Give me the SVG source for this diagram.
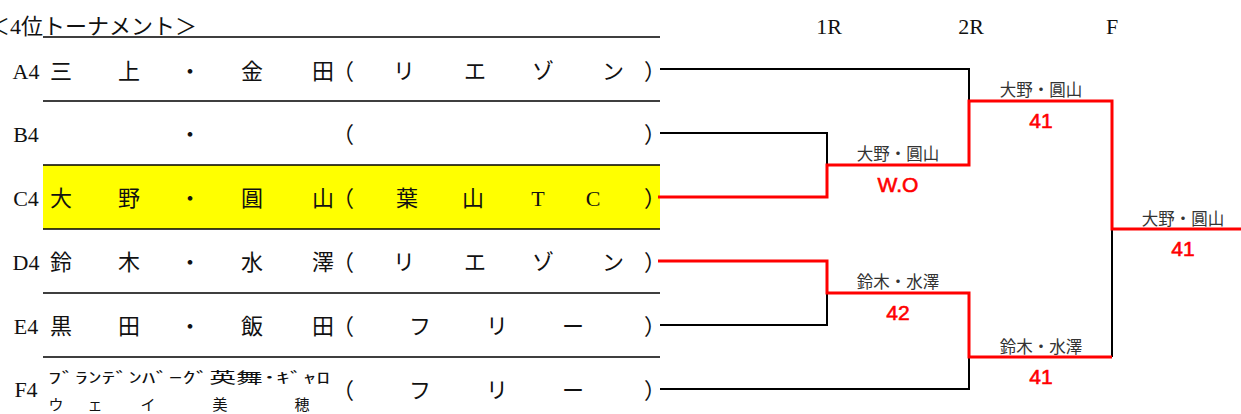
<svg xmlns="http://www.w3.org/2000/svg" width="1241" height="414" viewBox="0 0 1241 414">
<style>
.t{font-family:"Liberation Serif","Noto Sans CJK JP",serif;font-size:22px;fill:#111}
.s{font-family:"Noto Sans CJK JP",sans-serif;font-size:15px;fill:#111}
.h{font-family:"Liberation Serif",serif;font-size:22px;fill:#111}
.lab{font-family:"Noto Sans CJK JP",sans-serif;font-size:16.5px;fill:#333;text-anchor:middle}
.num{font-family:"Liberation Sans",Arial,sans-serif;font-size:21px;fill:#ff0000;stroke:#ff0000;stroke-width:0.6;text-anchor:middle}
.rule{stroke:#000;stroke-width:1.5;fill:none}
.blk{stroke:#000;stroke-width:2;fill:none}
.red{stroke:#ff0000;stroke-width:3;fill:none}
</style>
<rect width="1241" height="414" fill="#fff"/>
<g id="title">
<text class="t" x="-12" y="34" font-size="21">＜4位トーナメント＞</text>
<text class="h" x="829" y="34" text-anchor="middle">1R</text>
<text class="h" x="971" y="34" text-anchor="middle">2R</text>
<text class="h" x="1112" y="34" text-anchor="middle">F</text>
</g>
<rect x="43" y="165" width="617" height="64" fill="#ffff00"/>
<g id="rules">
<path class="rule" d="M43,37H660M43,101H660M43,165H660M43,229H660M43,293H660M43,357H660"/>
</g>
<g id="A4" class="t" text-anchor="middle">
<text x="26" y="79">A4</text>
<text x="61" y="79">三</text><text x="129" y="79">上</text><text x="190" y="79">・</text><text x="252" y="79">金</text><text x="323" y="79">田</text>
<text x="343" y="79">（</text><text x="404" y="79">リ</text><text x="475" y="79">エ</text><text x="543" y="79">ゾ</text><text x="613" y="79">ン</text><text x="655" y="79">）</text>
</g>
<g id="B4" class="t" text-anchor="middle">
<text x="26" y="142">B4</text>
<text x="190" y="142">・</text><text x="343" y="142">（</text><text x="655" y="142">）</text>
</g>
<g id="C4" class="t" text-anchor="middle">
<text x="26" y="206">C4</text>
<text x="61" y="206">大</text><text x="129" y="206">野</text><text x="190" y="206">・</text><text x="252" y="206">圓</text><text x="323" y="206">山</text>
<text x="343" y="206">（</text><text x="407" y="206">葉</text><text x="473" y="206">山</text><text x="538" y="206">T</text><text x="593" y="206">C</text><text x="655" y="206">）</text>
</g>
<g id="D4" class="t" text-anchor="middle">
<text x="26" y="270">D4</text>
<text x="61" y="270">鈴</text><text x="129" y="270">木</text><text x="190" y="270">・</text><text x="252" y="270">水</text><text x="323" y="270">澤</text>
<text x="343" y="270">（</text><text x="404" y="270">リ</text><text x="475" y="270">エ</text><text x="543" y="270">ゾ</text><text x="613" y="270">ン</text><text x="655" y="270">）</text>
</g>
<g id="E4" class="t" text-anchor="middle">
<text x="26" y="334">E4</text>
<text x="61" y="334">黒</text><text x="129" y="334">田</text><text x="190" y="334">・</text><text x="252" y="334">飯</text><text x="323" y="334">田</text>
<text x="343" y="334">（</text><text x="420" y="334">フ</text><text x="497" y="334">リ</text><text x="573" y="334">ー</text><text x="655" y="334">）</text>
</g>
<g id="F4">
<text class="t" x="26" y="397" text-anchor="middle">F4</text>
<text class="s" x="48" y="383" font-size="16" textLength="282" lengthAdjust="spacingAndGlyphs">ﾌﾞﾗﾝﾃﾞﾝﾊﾞｰｸﾞ英舞･ｷﾞｬﾛ</text>
<g class="s" text-anchor="middle" font-size="16">
<text x="56" y="410">ウ</text><text x="95" y="410">ェ</text><text x="148" y="410">イ</text><text x="220" y="410">美</text><text x="302" y="410">穂</text>
</g>
<g class="t" text-anchor="middle"><text x="343" y="398">（</text><text x="420" y="398">フ</text><text x="497" y="398">リ</text><text x="573" y="398">ー</text><text x="655" y="398">）</text></g>
</g>
<g id="connectors">
<path class="blk" d="M660,69H969V101"/>
<path class="blk" d="M660,133H827V165"/>
<path class="blk" d="M660,325H827V293"/>
<path class="blk" d="M660,389H969V357"/>
<path class="blk" d="M1112,229V357"/>
<path class="red" d="M658,197H827V165H969V101H1112V229H1241"/>
<path class="red" d="M658,261H827V293H969V357H1112"/>
</g>
<g id="results">
<text class="lab" x="898" y="160">大野・圓山</text>
<text class="num" x="898" y="192">W.O</text>
<text class="lab" x="898" y="288">鈴木・水澤</text>
<text class="num" x="898" y="320">42</text>
<text class="lab" x="1041" y="96">大野・圓山</text>
<text class="num" x="1041" y="128">41</text>
<text class="lab" x="1041" y="353">鈴木・水澤</text>
<text class="num" x="1041" y="384">41</text>
<text class="lab" x="1183" y="225">大野・圓山</text>
<text class="num" x="1183" y="256">41</text>
</g>
</svg>
